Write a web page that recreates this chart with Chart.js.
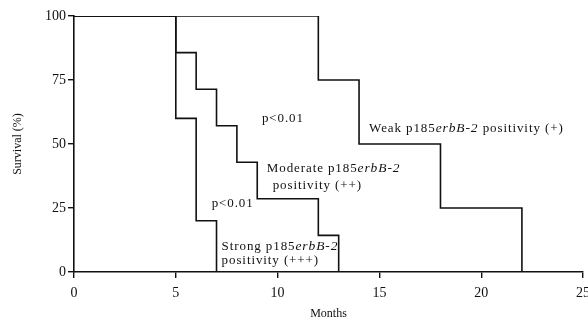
<!DOCTYPE html>
<html>
<head>
<meta charset="utf-8">
<script src="https://cdn.jsdelivr.net/npm/chart.js@4/dist/chart.umd.min.js"></script>
<style>
  html, body { margin: 0; padding: 0; background: #fff; }
  #wrap { width: 588px; height: 321px; position: relative; }
</style>
</head>
<body>
<div id="wrap"><canvas id="km"></canvas></div>
<script>
// survival curves (months, % surviving)
const weakMonths = [0, 12, 14, 18, 22];
const weakSurvival = [100, 75, 50, 25, 0];
const moderateMonths = [0, 5, 6, 7, 8, 9, 12, 13];
const moderateSurvival = [100, 85.7, 71.4, 57.1, 42.9, 28.6, 14.3, 0];
const strongMonths = [0, 5, 6, 7];
const strongSurvival = [100, 60, 20, 0];

const xTicks = [0, 5, 10, 15, 20, 25];
const yTicks = [0, 25, 50, 75, 100];

// text labels placed in data units
const labels = [
  { x: 9.23, y: 60.0, parts: [["p<0.01", false]] },
  { x: 6.76, y: 26.8, parts: [["p<0.01", false]] },
  { x: 14.49, y: 56.1, parts: [["Weak p185", false], ["erbB-2", true], [" positivity (+)", false]] },
  { x: 9.47, y: 40.5, parts: [["Moderate p185", false], ["erbB-2", true]] },
  { x: 9.76, y: 33.9, parts: [["positivity (++)", false]] },
  { x: 7.25, y: 10.0, parts: [["Strong p185", false], ["erbB-2", true]] },
  { x: 7.25, y: 4.3, parts: [["positivity (+++)", false]] },
];

const pts = (xs, ys) => xs.map((x, i) => ({ x: x, y: ys[i] }));
const serif = "'Liberation Serif', 'DejaVu Serif', serif";

const textPlugin = {
  id: "kmText",
  afterDatasetsDraw(chart) {
    const ctx = chart.ctx;
    const xs = chart.scales.x, ys = chart.scales.y;
    ctx.save();
    ctx.fillStyle = "#111";
    ctx.textBaseline = "middle";
    ctx.letterSpacing = "0.9px";
    labels.forEach((l) => {
      let px = xs.getPixelForValue(l.x);
      const py = ys.getPixelForValue(l.y);
      l.parts.forEach(([t, it]) => {
        ctx.font = (it ? "italic 13.5px " : "13px ") + serif;
        ctx.fillText(t, px, py);
        px += ctx.measureText(t).width;
      });
    });
    ctx.restore();
  },
};

const line = (data) => ({
  data: data,
  stepped: true,
  borderColor: "#111",
  borderWidth: 1.6,
  pointRadius: 0,
  fill: false,
});

new Chart(document.getElementById("km"), {
  type: "scatter",
  data: {
    datasets: [
      line(pts(weakMonths, weakSurvival)),
      line(pts(moderateMonths, moderateSurvival)),
      line(pts(strongMonths, strongSurvival)),
    ],
  },
  options: {
    responsive: true,
    maintainAspectRatio: false,
    animation: false,
    showLine: true,
    layout: { autoPadding: false, padding: { top: 16, right: 5, left: 0, bottom: 0 } },
    plugins: { legend: { display: false }, tooltip: { enabled: false } },
    scales: {
      x: {
        type: "linear",
        min: 0,
        max: 25,
        afterBuildTicks: (s) => { s.ticks = xTicks.map((v) => ({ value: v })); },
        afterFit: (s) => { s.height = 49; s.paddingLeft = 0; s.paddingRight = 0; },
        grid: { drawOnChartArea: false, color: "#111", tickLength: 6, lineWidth: 1.4 },
        border: { color: "#111", width: 1.6 },
        ticks: { color: "#111", font: { family: serif, size: 14 }, padding: 7, maxRotation: 0 },
        title: { display: true, text: "Months", color: "#111", font: { family: serif, size: 12 }, padding: { top: 10, bottom: 0 } },
      },
      y: {
        min: 0,
        max: 100,
        afterBuildTicks: (s) => { s.ticks = yTicks.map((v) => ({ value: v })); },
        afterFit: (s) => { s.width = 74; s.paddingTop = 0; s.paddingBottom = 0; },
        grid: { drawOnChartArea: false, color: "#111", tickLength: 6, lineWidth: 1.4 },
        border: { color: "#111", width: 1.6 },
        ticks: { color: "#111", font: { family: serif, size: 14 }, padding: 2 },
        title: { display: true, text: "Survival (%)", color: "#111", font: { family: serif, size: 12 }, padding: { top: 11, bottom: 0 } },
      },
    },
  },
  plugins: [textPlugin],
});
</script>
</body>
</html>
